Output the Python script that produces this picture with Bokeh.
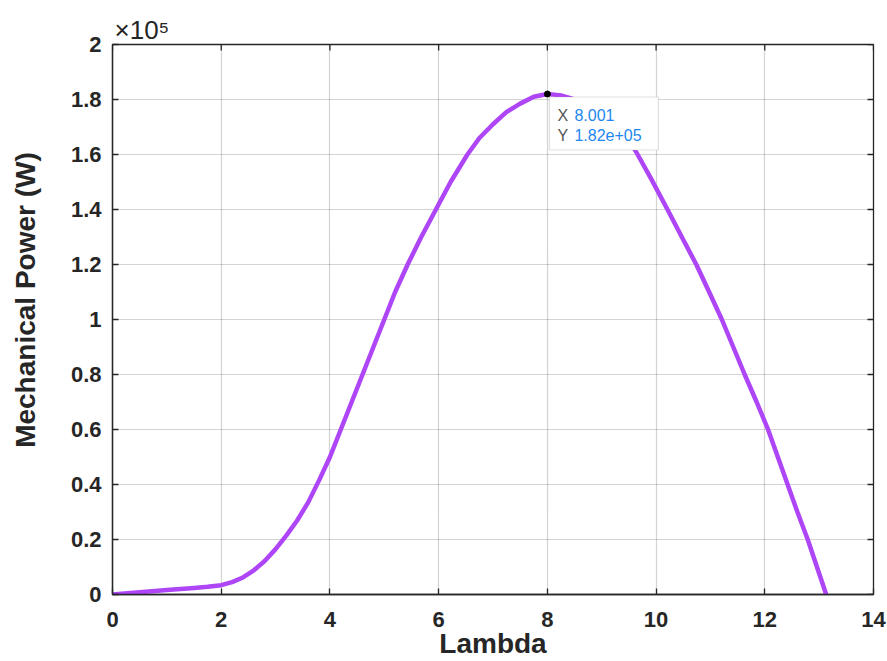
import math
from bokeh.plotting import figure
from bokeh.models import Range1d, FixedTicker, CustomJSTickFormatter, Label, BoxAnnotation
from bokeh.embed import file_html
from bokeh.resources import INLINE

# Tip-speed ratio vs. mechanical power of the turbine
lam = [0, 0.5, 1, 1.5, 1.75, 2, 2.2, 2.4, 2.6, 2.8, 3.0, 3.2, 3.4, 3.6, 3.8,
       4.0, 4.2, 4.4, 4.6, 4.8, 5.0, 5.2, 5.43, 5.68, 5.95, 6.22, 6.53, 6.75,
       7.0, 7.25, 7.5, 7.75, 8.001, 8.25, 8.5, 8.75, 9.0, 9.25, 9.5, 9.66,
       9.9, 10.21, 10.5, 10.74, 11.0, 11.21, 11.42, 11.63, 11.85, 12.06,
       12.24, 12.42, 12.6, 12.79, 12.96, 13.13]
power_w = [0, 800, 1600, 2400, 2800, 3400, 4500, 6200, 8800, 12200, 16500,
           21500, 27000, 33500, 41500, 50000, 60000, 70000, 80000, 90000,
           100000, 110000, 120000, 130000, 140000, 150000, 160000, 166000,
           171000, 175500, 178500, 181000, 182000, 181500, 180000, 177500,
           174000, 170000, 165500, 160000, 151500, 140000, 129000, 120000,
           109000, 100000, 90000, 80000, 70000, 60000, 50000, 40000, 30000,
           20000, 10000, 0]

# Data tip on the maximum
tip_x = 8.001
tip_y = 1.82e5
tip_x_text = "8.001"
tip_y_text = "1.82e+05"

x_ticks = [0, 2, 4, 6, 8, 10, 12, 14]
y_ticks = [0, 20000, 40000, 60000, 80000, 100000, 120000, 140000, 160000, 180000, 200000]
x_lim = (0, 14)
y_lim = (0, 2e5)

W, H = 887, 661
ML, MR, MT, MB = 112, 14, 44, 67
frame_w = W - ML - MR
frame_h = H - MT - MB

AX = "#262626"
FONT = "Liberation Sans"

p = figure(width=W, height=H, output_backend="svg", toolbar_location=None,
           x_range=Range1d(*x_lim), y_range=Range1d(*y_lim),
           min_border_left=ML, min_border_right=MR,
           min_border_top=MT, min_border_bottom=MB,
           background_fill_color="white", border_fill_color="white")
p.outline_line_color = AX
p.outline_line_width = 1.3

# multiplier of the y axis, shown above the top-left corner
p.title.text = "\u00d710\u2075"
p.title.text_font = FONT
p.title.text_font_size = "26px"
p.title.text_font_style = "normal"
p.title.text_color = AX
p.title.align = "left"
p.title.offset = 2
p.title.standoff = 0

yfmt = CustomJSTickFormatter(code="return parseFloat((tick / 1e5).toFixed(1)).toString();")

for ax in (p.xaxis[0], p.yaxis[0]):
    ax.axis_line_color = AX
    ax.axis_line_width = 1.3
    ax.major_tick_line_color = AX
    ax.major_tick_line_width = 1.3
    ax.major_tick_in = 6
    ax.major_tick_out = 0
    ax.minor_tick_line_color = None
    ax.major_label_text_font = FONT
    ax.major_label_text_font_style = "bold"
    ax.major_label_text_font_size = "22px"
    ax.major_label_text_color = AX
    ax.major_label_text_line_height = 1.0
    ax.axis_label_text_font = FONT
    ax.axis_label_text_font_style = "bold"
    ax.axis_label_text_font_size = "28px"
    ax.axis_label_text_color = AX
    ax.axis_label_text_line_height = 1.0

p.xaxis[0].ticker = FixedTicker(ticks=x_ticks)
p.yaxis[0].ticker = FixedTicker(ticks=y_ticks)
p.yaxis[0].formatter = yfmt
p.xaxis[0].axis_label = "Lambda"
p.yaxis[0].axis_label = "\u00a0" * 5 + "Mechanical Power (W)"
p.xaxis[0].major_label_standoff = 17
p.xaxis[0].axis_label_standoff = -2
p.yaxis[0].major_label_standoff = 11
p.yaxis[0].axis_label_standoff = 27

p.xgrid.ticker = FixedTicker(ticks=x_ticks)
p.ygrid.ticker = FixedTicker(ticks=y_ticks)
for g in (p.xgrid[0], p.ygrid[0]):
    g.grid_line_color = AX
    g.grid_line_alpha = 0.2
    g.grid_line_width = 1.2

# inward ticks on the top and right edges of the box
p.scatter(x_ticks, [y_lim[1]] * len(x_ticks), marker="dash", angle=math.pi / 2,
          size=12, line_color=AX, line_width=1.3)
p.scatter([x_lim[1]] * len(y_ticks), y_ticks, marker="dash",
          size=12, line_color=AX, line_width=1.3)

p.line(lam, power_w, line_color="#AE45F7", line_width=4.5)

# data tip box
dx = (x_lim[1] - x_lim[0]) / frame_w
dy = (y_lim[1] - y_lim[0]) / frame_h
p.add_layout(BoxAnnotation(left=tip_x + 2 * dx, right=tip_x + 111 * dx,
                           top=tip_y - 3 * dy, bottom=tip_y - 56 * dy,
                           fill_color="white", fill_alpha=1.0,
                           line_color="#999999", line_width=1.2, level="overlay"))
p.scatter([tip_x], [tip_y], size=6, color="black")

for key, val, yo in (("X", tip_x_text, -21), ("Y", tip_y_text, -41)):
    p.add_layout(Label(x=tip_x, y=tip_y, x_offset=10, y_offset=yo, text=key,
                       text_font=FONT, text_font_size="16px", text_color="#555555",
                       text_baseline="middle", text_align="left", level="overlay"))
    p.add_layout(Label(x=tip_x, y=tip_y, x_offset=27, y_offset=yo, text=val,
                       text_font=FONT, text_font_size="16px", text_color="#1E87F0",
                       text_baseline="middle", text_align="left", level="overlay"))

open("out.html", "w").write(file_html(p, INLINE))
